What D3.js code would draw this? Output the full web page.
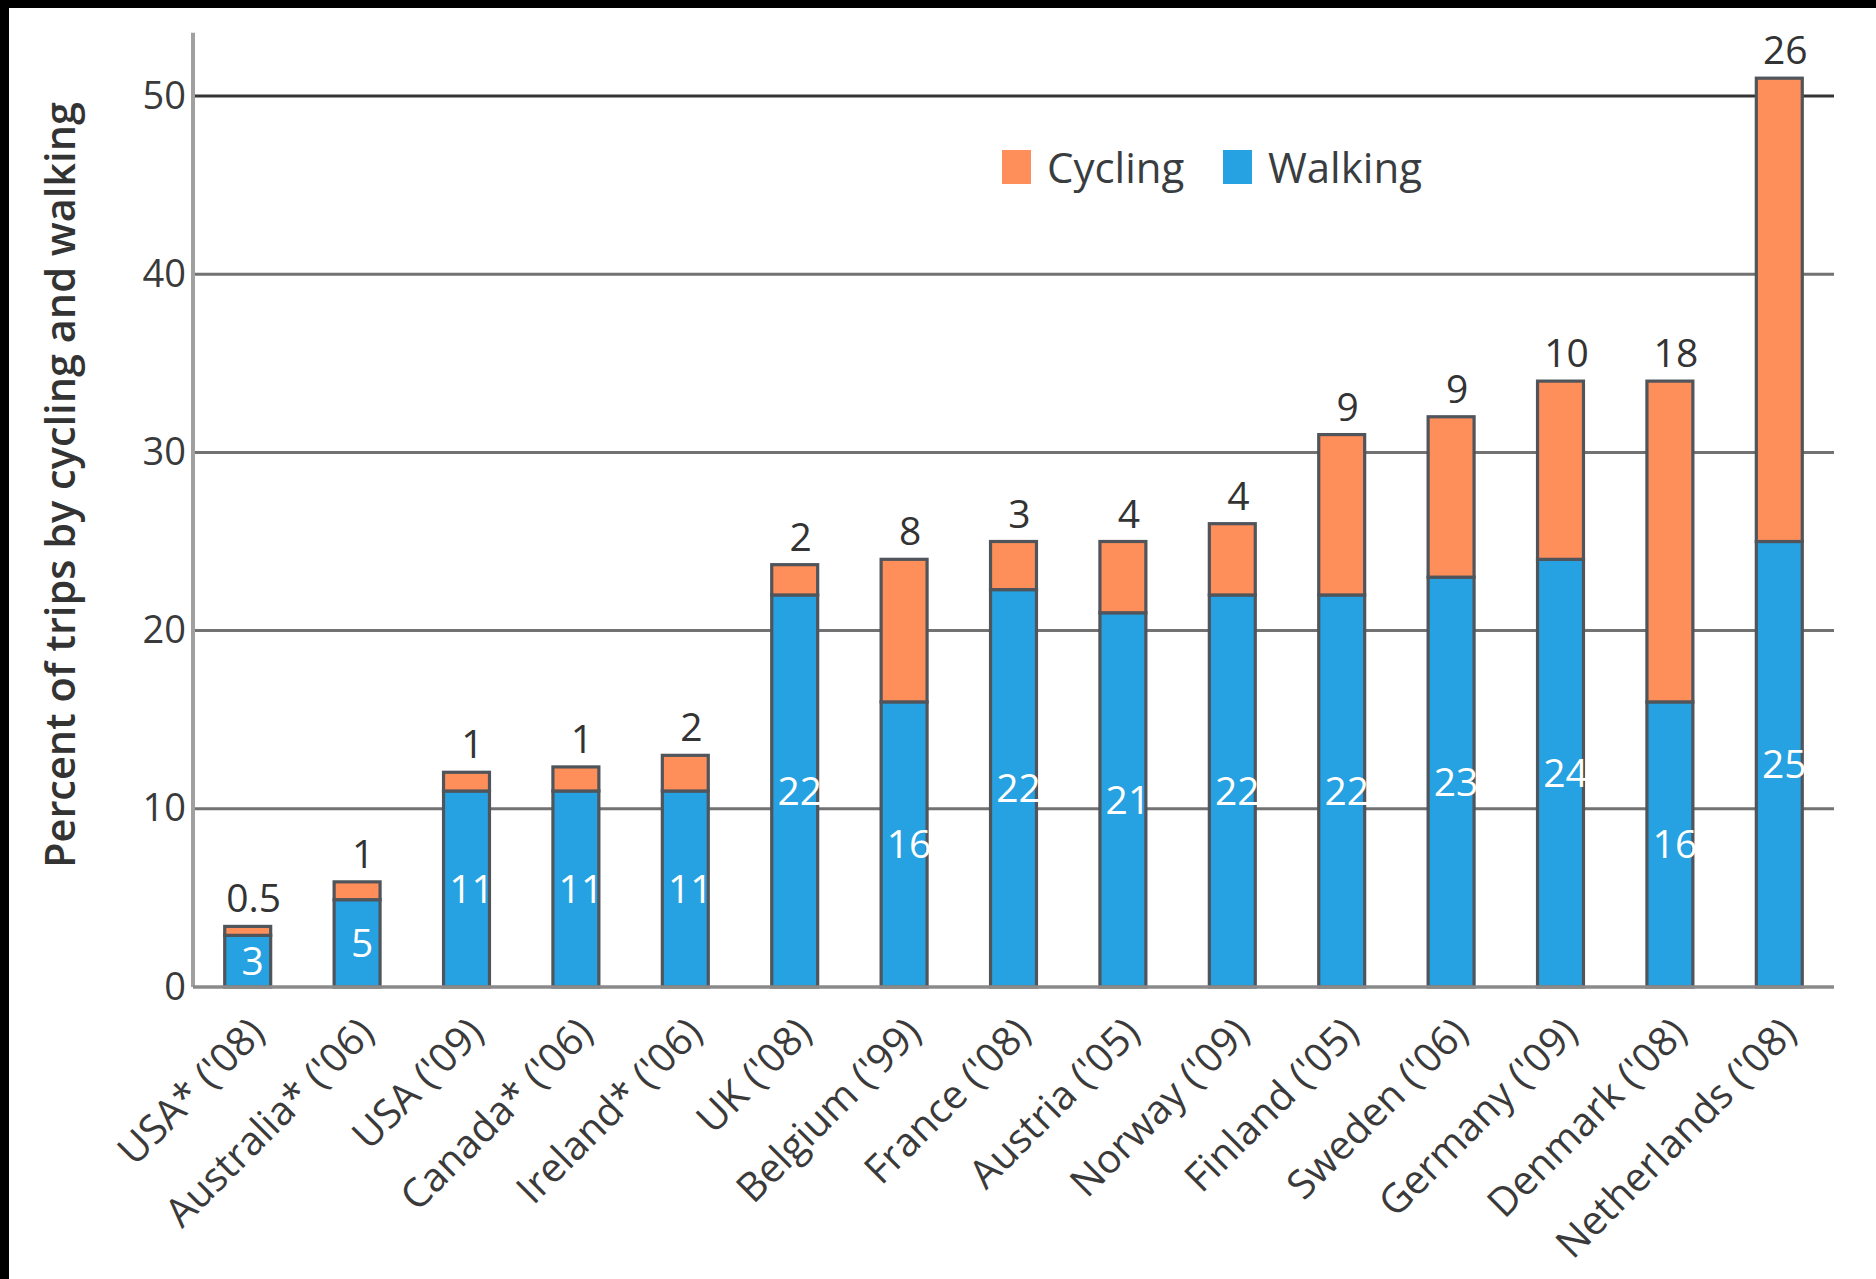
<!DOCTYPE html>
<html>
<head>
<meta charset="utf-8">
<script src="https://cdn.jsdelivr.net/npm/d3@7"></script>
<style>
  html, body { margin: 0; padding: 0; background: #fff; }
  svg { display: block; }
  text { font-family: "Open Sans", "DejaVu Sans", sans-serif; }
</style>
</head>
<body>
<script>
// ---- Data ----
const categories = ["USA* ('08)", "Australia* ('06)", "USA ('09)", "Canada* ('06)", "Ireland* ('06)",
  "UK ('08)", "Belgium ('99)", "France ('08)", "Austria ('05)", "Norway ('09)",
  "Finland ('05)", "Sweden ('06)", "Germany ('09)", "Denmark ('08)", "Netherlands ('08)"];
const walking = [2.9, 4.9, 11, 11, 11, 22, 16, 22.3, 21, 22, 22, 23, 24, 16, 25];
const cycling = [0.5, 1.0, 1.05, 1.35, 2, 1.7, 8, 2.7, 4, 4, 9, 9, 10, 18, 26];
const walkingLabels = ["3", "5", "11", "11", "11", "22", "16", "22", "21", "22", "22", "23", "24", "16", "25"];
const cyclingLabels = ["0.5", "1", "1", "1", "2", "2", "8", "3", "4", "4", "9", "9", "10", "18", "26"];
const yTicks = [0, 10, 20, 30, 40, 50];
const seriesNames = ["Cycling", "Walking"];
const seriesColors = ["#FF8F5A", "#26A1E1"];

// ---- Layout ----
const W = 1876, H = 1279;
const svg = d3.select("body").append("svg").attr("width", W).attr("height", H);
svg.append("rect").attr("width", W).attr("height", H).attr("fill", "#fff");
// black frame strips
svg.append("rect").attr("x", 0).attr("y", 0).attr("width", W).attr("height", 8).attr("fill", "#000");
svg.append("rect").attr("x", 0).attr("y", 0).attr("width", 9).attr("height", H).attr("fill", "#000");

const x0 = 193, x1 = 1834;
const x = d3.scaleBand().domain(categories).range([x0, x1]).paddingInner(0.58).paddingOuter(0.29);
const y = d3.scaleLinear().domain([0, 50]).range([987, 96]);

// gridlines
svg.append("g").selectAll("line").data(yTicks.filter(d => d > 0)).join("line")
  .attr("x1", x0).attr("x2", x1)
  .attr("y1", d => y(d)).attr("y2", d => y(d))
  .attr("stroke", d => d === 50 ? "#353535" : "#727272")
  .attr("stroke-width", 3);

// y axis line
svg.append("line").attr("x1", x0).attr("x2", x0).attr("y1", y(53.55)).attr("y2", y(0))
  .attr("stroke", "#a0a0a0").attr("stroke-width", 4);

// y tick labels via axis
const yAxis = d3.axisLeft(y).tickValues(yTicks).tickSize(0).tickPadding(7).tickFormat(d3.format("d"));
const gy = svg.append("g").attr("transform", `translate(${x0},0)`).call(yAxis);
gy.select(".domain").remove();
gy.selectAll("text").attr("font-size", 38).attr("fill", "#3a3a3a")
  .attr("font-family", "'Open Sans', sans-serif");

// stacked bars
const stackData = categories.map((c, i) => ({ cat: c, Walking: walking[i], Cycling: cycling[i] }));
const stack = d3.stack().keys(["Walking", "Cycling"]);
const layers = stack(stackData);
const colorOf = { Walking: seriesColors[1], Cycling: seriesColors[0] };

svg.append("g").selectAll("g").data(layers).join("g")
  .attr("fill", d => colorOf[d.key])
  .selectAll("rect").data(d => d).join("rect")
  .attr("x", d => x(d.data.cat))
  .attr("width", x.bandwidth())
  .attr("y", d => y(d[1]))
  .attr("height", d => y(d[0]) - y(d[1]))
  .attr("stroke", "#4f555b").attr("stroke-width", 3.2);

// baseline
svg.append("line").attr("x1", x0).attr("x2", x1).attr("y1", y(0)).attr("y2", y(0))
  .attr("stroke", "#8a8a8a").attr("stroke-width", 3.5);

// walking labels (white, middle of segment)
svg.append("g").selectAll("text").data(stackData).join("text")
  .attr("x", d => x(d.cat) + x.bandwidth() / 2 + 5)
  .attr("y", d => y(d.Walking / 2))
  .attr("dy", "0.36em")
  .attr("text-anchor", "middle")
  .attr("font-size", 39).attr("fill", "#ffffff")
  .text((d, i) => walkingLabels[i]);

// cycling labels (above bar)
svg.append("g").selectAll("text").data(stackData).join("text")
  .attr("x", d => x(d.cat) + x.bandwidth() / 2 + 6)
  .attr("y", d => y(d.Walking + d.Cycling) - 14)
  .attr("text-anchor", "middle")
  .attr("font-size", 39).attr("fill", "#333")
  .text((d, i) => cyclingLabels[i]);

// category labels rotated
svg.append("g").selectAll("text").data(categories).join("text")
  .attr("transform", d => `translate(${x(d) + x.bandwidth() / 2 + 19},1035) rotate(-45)`)
  .attr("text-anchor", "end")
  .attr("font-size", 40).attr("fill", "#3a3a3a")
  .text(d => d);

// y axis title
svg.append("text")
  .attr("transform", `translate(75,485) rotate(-90)`)
  .attr("text-anchor", "middle")
  .attr("font-size", 41.5).attr("font-weight", 600).attr("fill", "#333")
  .text("Percent of trips by cycling and walking");

// legend
const legendX = [1002, 1223];
const lg = svg.append("g").selectAll("g").data(seriesNames).join("g")
  .attr("transform", (d, i) => `translate(${legendX[i]},150)`);
lg.append("rect").attr("width", 29).attr("height", 34).attr("fill", (d, i) => seriesColors[i]);
lg.append("text").attr("x", 45).attr("y", 33).attr("font-size", 42).attr("fill", "#3a3d40").text(d => d);
</script>
</body>
</html>
